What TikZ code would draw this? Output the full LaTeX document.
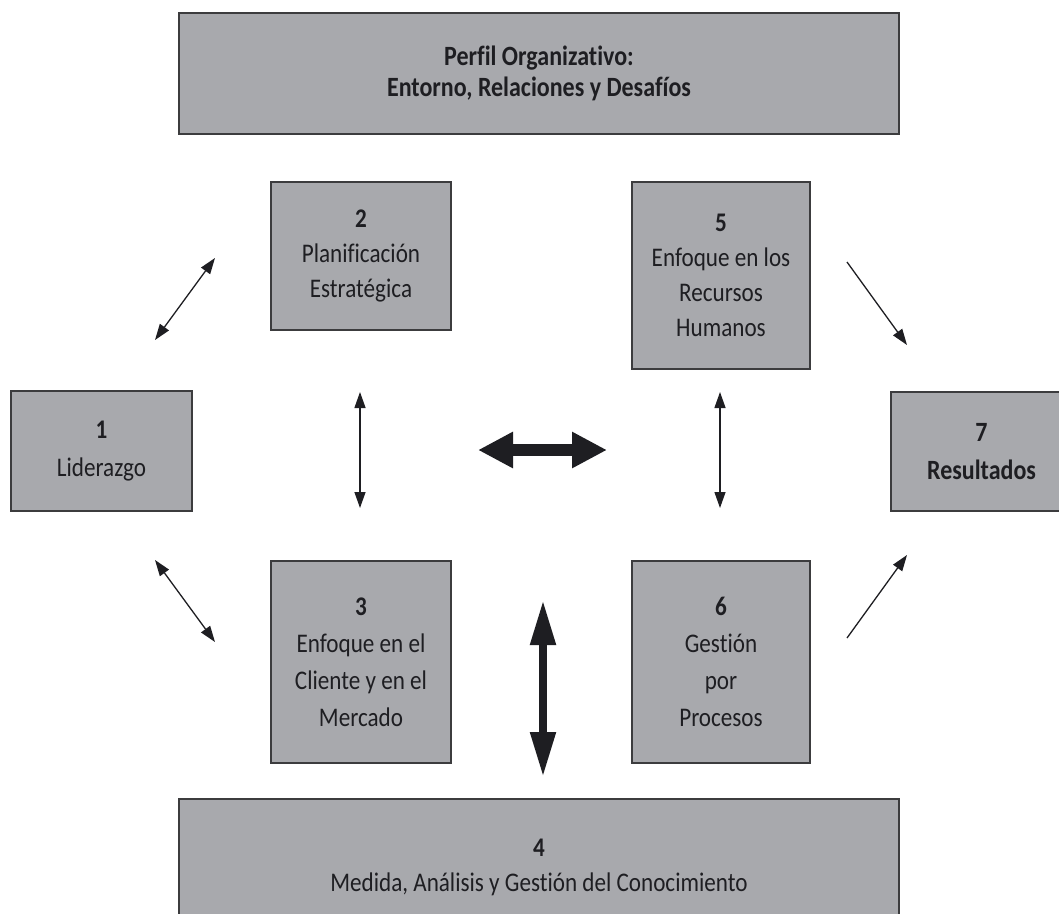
\documentclass[tikz,border=0pt]{standalone}
\usepackage{fontspec}
\setmainfont{Carlito}[FakeStretch=0.86, Ligatures=NoCommon]
\usetikzlibrary{arrows.meta}
\definecolor{boxfill}{HTML}{A8A9AD}
\definecolor{boxline}{HTML}{3C3C3E}
\definecolor{ink}{HTML}{1E1E22}
\begin{document}
\begin{tikzpicture}[x=1bp,y=-1bp,
  panel/.style={draw=boxline, fill=boxfill, line width=2bp, anchor=north west,
    inner sep=0pt, align=center, text=ink, font=\fontsize{27}{35}\selectfont},
  thinlink/.style={line width=1.3bp, draw=ink,
    {Triangle[length=16bp,width=11bp]}-{Triangle[length=16bp,width=11bp]}},
  thinflow/.style={line width=1.3bp, draw=ink, -{Triangle[length=16bp,width=11bp]}},
  widelink/.style={line width=12bp, draw=ink,
    {Triangle[length=35bp,width=34bp]}-{Triangle[length=35bp,width=34bp]}},
  talllink/.style={line width=8bp, draw=ink,
    {Triangle[length=45bp,width=24bp]}-{Triangle[length=45bp,width=24bp]}}
]
\useasboundingbox (0,0) rectangle (1059,914);
\clip (0,0) rectangle (1059,914);

% boxes
\node[panel, minimum width=720bp, minimum height=121bp,
  font=\fontsize{28}{31}\selectfont\bfseries] (perfil) at (178,12)
  {Perfil Organizativo:\\Entorno, Relaciones y Desafíos};
\node[panel, minimum width=180bp, minimum height=148bp] (plan) at (270,181)
  {\textbf{2}\\Planificación\\Estratégica};
\node[panel, minimum width=178bp, minimum height=187bp] (rrhh) at (631,181)
  {\textbf{5}\\Enfoque en los\\Recursos\\Humanos};
\node[panel, minimum width=181bp, minimum height=120bp,
  font=\fontsize{27}{38}\selectfont] (lider) at (10,390)
  {\textbf{1}\\Liderazgo};
\node[panel, minimum width=181bp, minimum height=119bp,
  font=\fontsize{28}{38}\selectfont\bfseries] (result) at (890,391)
  {7\\Resultados};
\node[panel, minimum width=180bp, minimum height=202bp,
  font=\fontsize{27}{37}\selectfont] (cliente) at (270,560)
  {\textbf{3}\\Enfoque en el\\Cliente y en el\\Mercado};
\node[panel, minimum width=178bp, minimum height=202bp,
  font=\fontsize{27}{37}\selectfont] (proc) at (631,560)
  {\textbf{6}\\Gestión\\por\\Procesos};
\node[panel, minimum width=720bp, minimum height=136bp] (medida) at (178,798)
  {\textbf{4}\\Medida, Análisis y Gestión del Conocimiento};

% arrow end points
\coordinate (ulA) at (155,340); \coordinate (ulB) at (215,258);
\coordinate (llA) at (155,560); \coordinate (llB) at (215,642);
\coordinate (urA) at (847,262); \coordinate (urB) at (907,345);
\coordinate (lrA) at (847,638); \coordinate (lrB) at (907,555);
\coordinate (vlA) at (360,392); \coordinate (vlB) at (360,508);
\coordinate (vrA) at (720,392); \coordinate (vrB) at (720,508);
\coordinate (hA) at (478,450);  \coordinate (hB) at (607,450);
\coordinate (vA) at (543,600);  \coordinate (vB) at (543,777);

% connectors
\draw[thinlink] (ulA) -- (ulB);
\draw[thinlink] (llA) -- (llB);
\draw[thinflow] (urA) -- (urB);
\draw[thinflow] (lrA) -- (lrB);
\draw[thinlink] (vlA) -- (vlB);
\draw[thinlink] (vrA) -- (vrB);
\draw[widelink] (hA) -- (hB);
\draw[talllink] (vA) -- (vB);
\end{tikzpicture}
\end{document}
